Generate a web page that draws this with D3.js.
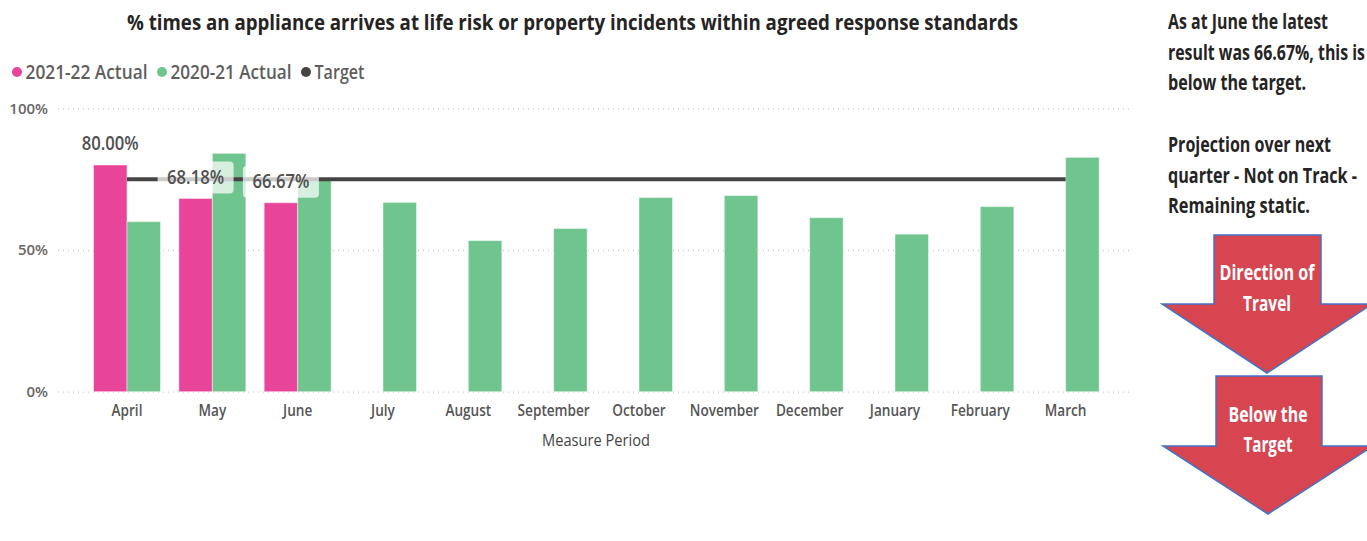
<!DOCTYPE html>
<html>
<head>
<meta charset="utf-8">
<script src="https://cdn.jsdelivr.net/npm/d3@7"></script>
<style>
  html, body { margin: 0; padding: 0; background: #fff; }
  svg { display: block; font-family: "Open Sans", "Noto Sans", sans-serif; }
</style>
</head>
<body>
<svg id="chart" width="1367" height="541"></svg>
<script>
// ---- data ----
const months = ["April","May","June","July","August","September","October","November","December","January","February","March"];
const actual2122 = [80.00, 68.18, 66.67, null, null, null, null, null, null, null, null, null];
const actual2021 = [60.0, 84.1, 75.0, 66.8, 53.3, 57.6, 68.5, 69.2, 61.4, 55.6, 65.3, 82.7];
const target = [75, 75, 75, 75, 75, 75, 75, 75, 75, 75, 75, 75];
const yTicks = [0, 50, 100];
const seriesNames = ["2021-22 Actual", "2020-21 Actual", "Target"];
const seriesColors = ["#E8449A", "#70C48E", "#444444"];
const titleText = "% times an appliance arrives at life risk or property incidents within agreed response standards";
const noteLines = ["As at June the latest", "result was 66.67%, this is", "below the target.", "", "Projection over next", "quarter - Not on Track -", "Remaining static."];
const arrowTexts = [["Direction of", "Travel"], ["Below the", "Target"]];

const svg = d3.select("#chart");

// ---- scales ----
const x = d3.scaleBand().domain(months).range([84.33, 1108.33]).paddingInner(0.215).paddingOuter(0.1075);
const xSub = d3.scaleBand().domain([0, 1]).range([0, x.bandwidth()]);
const y = d3.scaleLinear().domain([0, 100]).range([391.7, 108.3]);

// ---- title ----
svg.append("text").attr("x", 572.5).attr("y", 30).attr("text-anchor", "middle")
  .attr("font-size", 22).attr("font-weight", 700).attr("fill", "#252423")
  .attr("textLength", 891).attr("lengthAdjust", "spacingAndGlyphs")
  .text(titleText);

// ---- legend ----
const legX = [17, 162, 306];
const legW = [122, 121, 50];
seriesNames.forEach((n, i) => {
  svg.append("circle").attr("cx", legX[i]).attr("cy", 72).attr("r", 5).attr("fill", seriesColors[i]);
  svg.append("text").attr("x", legX[i] + 8.5).attr("y", 78.5).attr("font-size", 19).attr("font-weight", 600)
    .attr("fill", "#605E5C").attr("textLength", legW[i]).attr("lengthAdjust", "spacingAndGlyphs").text(n);
});

// ---- gridlines & y axis ----
const yAxis = d3.axisLeft(y).tickValues(yTicks).tickFormat(d => d + "%").tickSize(-(1133 - 58)).tickPadding(10);
const gy = svg.append("g").attr("transform", "translate(58,0)").call(yAxis);
gy.select(".domain").remove();
gy.selectAll(".tick line").attr("stroke", "#C8C8C8").attr("stroke-dasharray", "1,4").attr("stroke-width", 1.3);
gy.selectAll(".tick text").attr("font-size", 15).attr("font-weight", 600).attr("fill", "#666").attr("x", -10)
  .attr("font-family", "'Open Sans', sans-serif");

// ---- bars ----
const bars = svg.append("g");
months.forEach((m, i) => {
  [actual2122[i], actual2021[i]].forEach((v, j) => {
    if (v == null) return;
    bars.append("rect")
      .attr("x", x(m) + xSub(j)).attr("width", xSub.bandwidth())
      .attr("y", y(v)).attr("height", y(0) - y(v))
      .attr("fill", seriesColors[j])
      .attr("stroke", "rgba(255,255,255,0.45)").attr("stroke-width", 1);
  });
});

// ---- target line ----
const line = d3.line().x((d, i) => x(months[i]) + x.bandwidth() / 2).y(d => y(d));
svg.append("path").datum(target).attr("d", line).attr("fill", "none")
  .attr("stroke", seriesColors[2]).attr("stroke-width", 4);

// ---- data labels ----
const lab = svg.append("g");
actual2122.forEach((v, i) => {
  if (v == null) return;
  const cx = x(months[i]) + xSub(0) + xSub.bandwidth() / 2;
  const cy = y(v) - 21;
  if (i > 0) {
    lab.append("rect").attr("x", cx - 38).attr("y", cy - 16).attr("width", 76).attr("height", 32)
      .attr("rx", 4).attr("fill", "rgba(255,255,255,0.72)");
  }
  lab.append("text").attr("x", cx).attr("y", cy + 6.5).attr("text-anchor", "middle")
    .attr("font-size", 19).attr("font-weight", 600).attr("fill", "#505050")
    .attr("textLength", 57).attr("lengthAdjust", "spacingAndGlyphs")
    .text(v.toFixed(2) + "%");
});

// ---- x axis ----
const xAxis = d3.axisBottom(x).tickSize(0).tickPadding(0);
const gx = svg.append("g").attr("transform", "translate(0,402)").call(xAxis);
gx.select(".domain").remove();
gx.selectAll(".tick text").attr("font-size", 16).attr("font-weight", 600).attr("fill", "#555")
  .attr("font-family", "'Open Sans', sans-serif").attr("dy", "0.9em")
  .each(function() { const n = this.getComputedTextLength(); d3.select(this).attr("textLength", n * 0.85).attr("lengthAdjust", "spacingAndGlyphs"); });

svg.append("text").attr("x", 596).attr("y", 446).attr("text-anchor", "middle")
  .attr("font-size", 17).attr("fill", "#444").attr("textLength", 108).attr("lengthAdjust", "spacingAndGlyphs")
  .text("Measure Period");

// ---- right notes ----
const noteW = [160, 197, 138, 0, 163, 189, 142];
noteLines.forEach((t, i) => {
  if (!t) return;
  svg.append("text").attr("x", 1168).attr("y", 29 + i * 30.7).attr("font-size", 21).attr("font-weight", 700)
    .attr("fill", "#252423").attr("textLength", noteW[i]).attr("lengthAdjust", "spacingAndGlyphs").text(t);
});

// ---- arrows ----
const arrows = [
  { top: 235, bodyL: 1214, bodyR: 1321, shoulder: 304, wingL: 1162, wingR: 1372, tipX: 1267, tipY: 373, tb: [280, 311], tw: [95, 48] },
  { top: 376, bodyL: 1216, bodyR: 1322, shoulder: 446, wingL: 1163, wingR: 1373, tipX: 1268, tipY: 514, tb: [422, 452], tw: [79, 49] }
];
arrows.forEach((a, k) => {
  const pts = [[a.bodyL, a.top], [a.bodyR, a.top], [a.bodyR, a.shoulder], [a.wingR, a.shoulder],
               [a.tipX, a.tipY], [a.wingL, a.shoulder], [a.bodyL, a.shoulder]];
  svg.append("path").attr("d", d3.line()(pts) + "Z").attr("fill", "#D64550")
    .attr("stroke", "#4472C4").attr("stroke-width", 1.5);
  arrowTexts[k].forEach((t, j) => {
    svg.append("text").attr("x", a.tipX).attr("y", a.tb[j]).attr("text-anchor", "middle")
      .attr("font-size", 21).attr("font-weight", 700).attr("fill", "#fff")
      .attr("textLength", a.tw[j]).attr("lengthAdjust", "spacingAndGlyphs").text(t);
  });
});
</script>
</body>
</html>
